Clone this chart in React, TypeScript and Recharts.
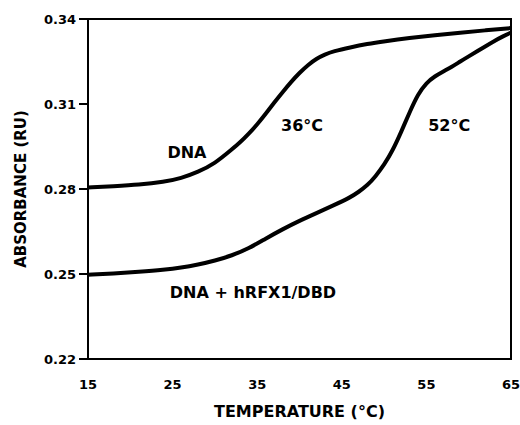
import { Label, Line, LineChart, ReferenceArea, ReferenceDot, XAxis, YAxis } from "recharts"

// temperature (°C) vs absorbance (RU)
const dnaTemp = [15, 18, 21, 24, 26, 28, 30, 32, 33, 34, 35, 36, 37, 38, 39, 40, 41, 42, 43, 44, 46, 48, 50, 53, 56, 59, 62, 65]
const dnaAbs = [
  0.2805, 0.281, 0.2815, 0.2825, 0.2838, 0.286, 0.289, 0.294, 0.2965, 0.2995, 0.3028, 0.3065, 0.3105, 0.3142,
  0.3178, 0.321, 0.3238, 0.326, 0.3275, 0.3286, 0.33, 0.3312, 0.3321, 0.3333, 0.3343, 0.3352, 0.336, 0.3368,
]

const complexTemp = [15, 18, 21, 24, 26, 28, 30, 32, 34, 36, 38, 40, 42, 44, 46, 47, 48, 49, 50, 51, 52, 53, 54, 55, 56, 57, 58, 59, 60, 61, 62, 63, 64, 65]
const complexAbs = [
  0.2497, 0.2502, 0.2508, 0.2515, 0.2522, 0.2533, 0.2547, 0.2565, 0.259, 0.2625, 0.2658, 0.2688, 0.2715, 0.2742,
  0.277, 0.279, 0.2812, 0.2845, 0.2885, 0.2935, 0.3, 0.307, 0.3135, 0.3175, 0.3198, 0.3215, 0.3231, 0.325, 0.3268,
  0.3286, 0.3304, 0.3322, 0.3338, 0.3352,
]

const xTicks = [15, 25, 35, 45, 55, 65]
const yTicks = [0.22, 0.25, 0.28, 0.31, 0.34]

const labels = [
  { text: "DNA", t: 26.7, a: 0.293 },
  { text: "36°C", t: 40.3, a: 0.3026 },
  { text: "52°C", t: 57.7, a: 0.3026 },
  { text: "DNA + hRFX1/DBD", t: 34.5, a: 0.2436 },
]

const dnaData = dnaTemp.map((t, i) => ({ t, a: dnaAbs[i] }))
const complexData = complexTemp.map((t, i) => ({ t, a: complexAbs[i] }))

const font = "'DejaVu Sans', sans-serif"
const tickStyle = { fontSize: 13, fontWeight: 700, fill: "#000", fontFamily: font }

export default function App() {
  return (
    <div style={{ position: "absolute", left: 0, top: 0, background: "#fff" }}>
      <LineChart width={520} height={425} margin={{ top: 19, right: 9, bottom: 0, left: 0 }}>
        <XAxis
          dataKey="t"
          type="number"
          domain={[15, 65]}
          ticks={xTicks}
          allowDataOverflow
          height={66}
          tickSize={0}
          tickMargin={21}
          tick={tickStyle}
          axisLine={{ stroke: "#000", strokeWidth: 2 }}
        >
          <Label
            value="TEMPERATURE (°C)"
            position="insideBottom"
            offset={8}
            style={{ fontSize: 16, fontWeight: 700, fill: "#000", fontFamily: font }}
          />
        </XAxis>
        <YAxis
          dataKey="a"
          type="number"
          domain={[0.22, 0.34]}
          ticks={yTicks}
          allowDataOverflow
          width={88}
          tickSize={9}
          tickMargin={3}
          tick={tickStyle}
          tickFormatter={(v) => Number(v).toFixed(2)}
          tickLine={{ stroke: "#000", strokeWidth: 2 }}
          axisLine={{ stroke: "#000", strokeWidth: 2 }}
        >
          <Label
            value="ABSORBANCE (RU)"
            angle={-90}
            position="insideLeft"
            offset={21}
            style={{ textAnchor: "middle", fontSize: 15, fontWeight: 700, fill: "#000", fontFamily: font }}
          />
        </YAxis>
        <ReferenceArea x1={15} x2={65} y1={0.22} y2={0.34} fill="none" stroke="#000" strokeWidth={2} />
        <Line
          data={dnaData}
          dataKey="a"
          type="basis"
          stroke="#000"
          strokeWidth={4}
          dot={false}
          activeDot={false}
          isAnimationActive={false}
        />
        <Line
          data={complexData}
          dataKey="a"
          type="basis"
          stroke="#000"
          strokeWidth={4}
          dot={false}
          activeDot={false}
          isAnimationActive={false}
        />
        {labels.map((l) => (
          <ReferenceDot
            key={l.text}
            x={l.t}
            y={l.a}
            r={0}
            fill="none"
            stroke="none"
            label={{
              value: l.text,
              position: "center",
              style: { fontSize: 16, fontWeight: 700, fill: "#000", fontFamily: font },
            }}
          />
        ))}
      </LineChart>
    </div>
  )
}
